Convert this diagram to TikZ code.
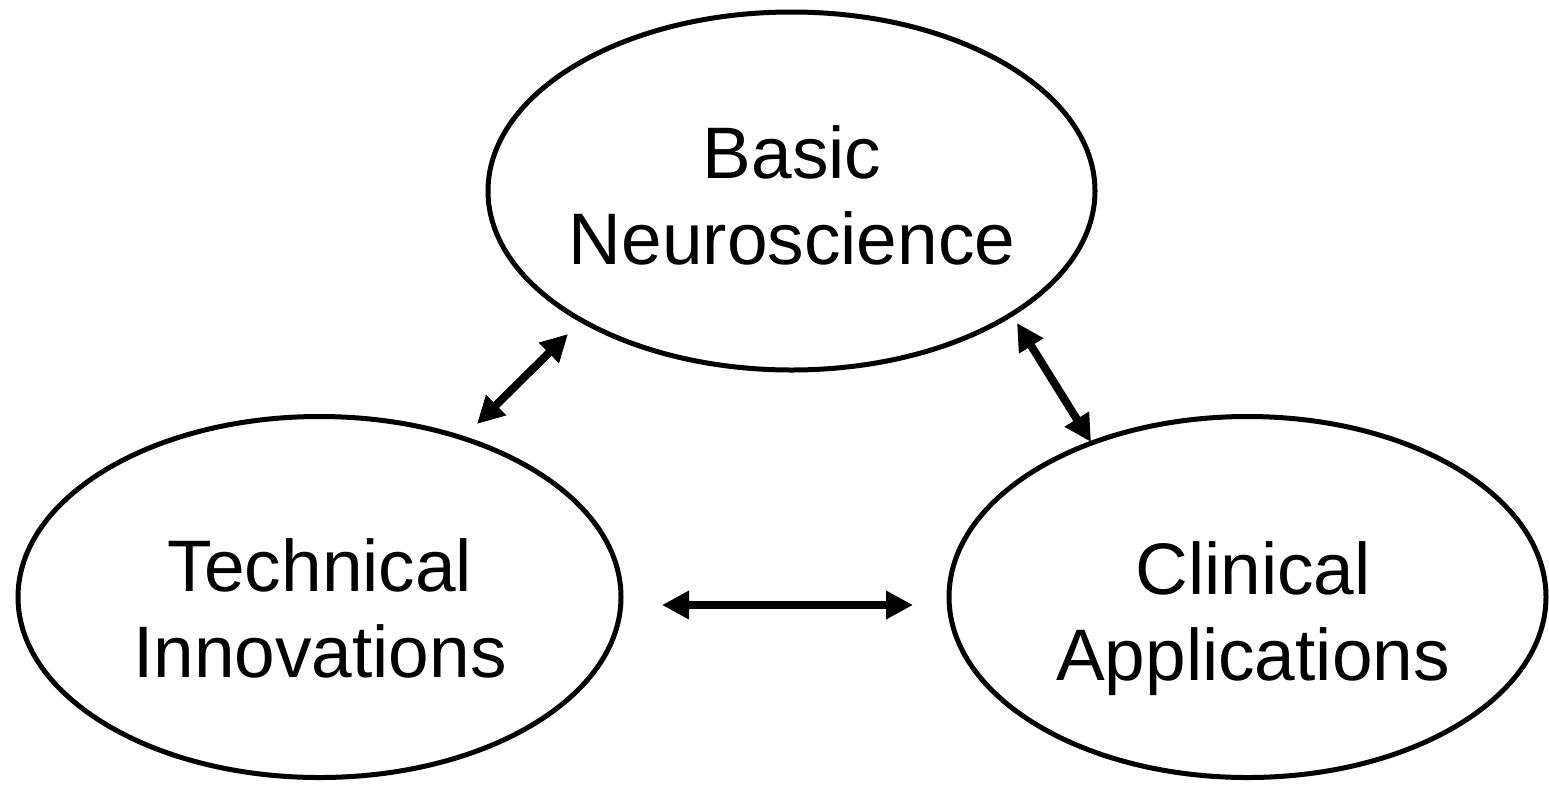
\documentclass[tikz,border=0pt]{standalone}
\usepackage{fontspec}
\setmainfont{Liberation Sans}
\usetikzlibrary{shapes.geometric,arrows.meta}
\begin{document}
\begin{tikzpicture}[x=1pt,y=-1pt,
  bubble/.style={ellipse,draw=black,line width=5pt,inner sep=0pt,outer sep=0pt},
  label/.style={align=center,inner sep=0pt,font=\fontsize{73}{86}\selectfont},
  link/.style={line width=8pt,{Triangle[length=27pt,width=27pt]}-{Triangle[length=27pt,width=27pt]}}]
\useasboundingbox (0,0) rectangle (1549,785);
\node[bubble,minimum width=607pt,minimum height=358pt] (basic) at (791.5,191) {};
\node[bubble,minimum width=603pt,minimum height=361pt] (tech) at (319.5,597) {};
\node[bubble,minimum width=597pt,minimum height=361pt] (clin) at (1247.5,597) {};
\node[label] (basicT) at (792,195) {Basic\\Neuroscience};
\node[label] (techT) at (320,608) {Technical\\Innovations};
\node[label] (clinT) at (1253,619) {Clinical\\Applications};
\coordinate (a1) at (477,424);
\coordinate (a2) at (568,334);
\coordinate (b1) at (1017,323);
\coordinate (b2) at (1091,442);
\coordinate (c1) at (662,605);
\coordinate (c2) at (913,605);
\draw[link] (a1) -- (a2);
\draw[link] (b1) -- (b2);
\draw[link] (c1) -- (c2);
\end{tikzpicture}
\end{document}
